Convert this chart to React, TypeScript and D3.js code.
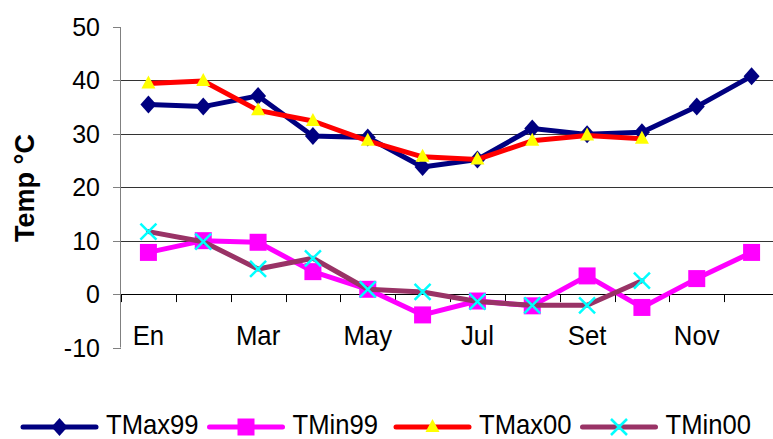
import React, { useEffect, useRef } from 'react';
import * as d3 from 'd3';

// months on the category axis, only every other one gets a label
const months = ['En', 'Feb', 'Mar', 'Abr', 'May', 'Jun', 'Jul', 'Ago', 'Set', 'Oct', 'Nov', 'Dic'];
const monthLabels = ['En', 'Mar', 'May', 'Jul', 'Set', 'Nov'];
const yTicks = [-10, 0, 10, 20, 30, 40, 50];
const gridValues = [10, 20, 30, 40];

const tmax99 = [35.5, 35.1, 37.1, 29.6, 29.3, 23.8, 25.2, 31.0, 29.9, 30.3, 35.1, 40.8];
const tmin99 = [7.8, 10.0, 9.7, 4.2, 0.9, -3.9, -1.3, -2.2, 3.4, -2.5, 2.9, 7.8];
const tmax00 = [39.4, 39.9, 34.4, 32.4, 28.7, 25.7, 25.2, 28.7, 29.7, 29.1];
const tmin00 = [11.7, 9.8, 4.7, 6.7, 0.9, 0.4, -1.4, -2.1, -2.1, 2.5];

const seriesNames = ['TMax99', 'TMin99', 'TMax00', 'TMin00'];

const FONT = "'Liberation Sans', Arial, sans-serif";

// marker paths centred on 0,0
const markerPath = (kind) => {
  if (kind === 'diamond') return 'M0,-9L8,0L0,9L-8,0Z';
  if (kind === 'square') return 'M-8.5,-8.5H8.5V8.5H-8.5Z';
  if (kind === 'triangle') return 'M0,-8L7,5H-7Z';
  return 'M-8,-8L8,8M-8,8L8,-8';
};

const App = () => {
  const svgRef = useRef(null);

  useEffect(() => {
    if (!svgRef.current) return;
    const svg = d3.select(svgRef.current);
    svg.selectAll('*').remove();

    const width = 773;
    const height = 439;

    svg.append('rect').attr('width', width).attr('height', height).attr('fill', '#fff');

    const x = d3.scaleBand().domain(months).range([121, 779]).padding(0);
    const y = d3.scaleLinear().domain([-10, 50]).range([347.5, 27]);
    const cx = (m) => x(m) + x.bandwidth() / 2;

    const series = [
      { name: seriesNames[0], values: tmax99, color: '#000080', marker: 'diamond', fill: '#000080', mstroke: 'none' },
      { name: seriesNames[1], values: tmin99, color: '#ff00ff', marker: 'square', fill: '#ff00ff', mstroke: 'none' },
      { name: seriesNames[2], values: tmax00, color: '#ff0000', marker: 'triangle', fill: '#ffff00', mstroke: 'none' },
      { name: seriesNames[3], values: tmin00, color: '#993366', marker: 'x', fill: 'none', mstroke: '#00ffff' }
    ];

    // gridlines
    svg.append('g')
      .selectAll('line')
      .data(gridValues)
      .enter()
      .append('line')
      .attr('x1', 121)
      .attr('x2', 779)
      .attr('y1', d => Math.round(y(d)) + 0.5)
      .attr('y2', d => Math.round(y(d)) + 0.5)
      .attr('stroke', '#333')
      .attr('stroke-width', 1);

    // y axis
    const yAxis = svg.append('g');
    yAxis.append('line')
      .attr('x1', 120.5).attr('x2', 120.5)
      .attr('y1', y(50)).attr('y2', y(-10))
      .attr('stroke', '#808080').attr('stroke-width', 1);
    yAxis.selectAll('.tick')
      .data(yTicks)
      .enter()
      .append('line')
      .attr('x1', 113).attr('x2', 121)
      .attr('y1', d => Math.round(y(d)) + 0.5)
      .attr('y2', d => Math.round(y(d)) + 0.5)
      .attr('stroke', '#808080');
    yAxis.selectAll('text')
      .data(yTicks)
      .enter()
      .append('text')
      .attr('x', 100)
      .attr('y', d => y(d))
      .attr('dy', '0.36em')
      .attr('text-anchor', 'end')
      .attr('font-family', FONT)
      .attr('font-size', '25px')
      .attr('fill', '#000')
      .text(d => d);

    // x axis at zero
    const xAxis = svg.append('g');
    xAxis.append('line')
      .attr('x1', 121).attr('x2', 779)
      .attr('y1', Math.round(y(0)) + 0.5).attr('y2', Math.round(y(0)) + 0.5)
      .attr('stroke', '#000');
    xAxis.selectAll('.tick')
      .data(months)
      .enter()
      .append('line')
      .attr('x1', d => Math.round(x(d)) + 0.5)
      .attr('x2', d => Math.round(x(d)) + 0.5)
      .attr('y1', y(0))
      .attr('y2', y(0) + 8)
      .attr('stroke', '#000');
    xAxis.selectAll('text')
      .data(monthLabels)
      .enter()
      .append('text')
      .attr('transform', d => `translate(${cx(d)},345) scale(0.92,1)`)
      .attr('text-anchor', 'middle')
      .attr('font-family', FONT)
      .attr('font-size', '28px')
      .attr('fill', '#000')
      .text(d => d);

    // y title
    svg.append('text')
      .attr('transform', 'translate(33.5,188) rotate(-90)')
      .attr('text-anchor', 'middle')
      .attr('font-family', FONT)
      .attr('font-size', '27px')
      .attr('font-weight', 'bold')
      .attr('fill', '#000')
      .text('Temp °C');

    // series
    const line = d3.line()
      .x((d, i) => cx(months[i]))
      .y(d => y(d));

    series.forEach(s => {
      const g = svg.append('g');
      g.append('path')
        .datum(s.values)
        .attr('d', line)
        .attr('fill', 'none')
        .attr('stroke', s.color)
        .attr('stroke-width', 5)
        .attr('stroke-linejoin', 'round')
        .attr('stroke-linecap', 'round');
      g.selectAll('.m')
        .data(s.values)
        .enter()
        .append('path')
        .attr('transform', (d, i) => `translate(${cx(months[i])},${y(d)})`)
        .attr('d', markerPath(s.marker))
        .attr('fill', s.fill)
        .attr('stroke', s.mstroke)
        .attr('stroke-width', 2.5);
    });

    // legend
    const legend = svg.append('g');
    const items = legend.selectAll('.legend-item')
      .data(series)
      .enter()
      .append('g')
      .attr('transform', (d, i) => `translate(${23 + i * 186.5},0)`);
    items.append('line')
      .attr('x1', 0).attr('x2', 73)
      .attr('y1', 427).attr('y2', 427)
      .attr('stroke', d => d.color)
      .attr('stroke-width', 5)
      .attr('stroke-linecap', 'round');
    items.append('path')
      .attr('transform', 'translate(36.5,427)')
      .attr('d', d => markerPath(d.marker))
      .attr('fill', d => d.fill)
      .attr('stroke', d => d.mstroke)
      .attr('stroke-width', 2.5);
    items.append('text')
      .attr('transform', 'translate(83,434) scale(0.95,1)')
      .attr('font-family', FONT)
      .attr('font-size', '27px')
      .attr('fill', '#000')
      .text(d => d.name);
  }, []);

  return (
    <svg
      ref={svgRef}
      width={773}
      height={439}
      style={{ position: 'absolute', left: 0, top: 0, display: 'block' }}
    />
  );
};

export default App;
